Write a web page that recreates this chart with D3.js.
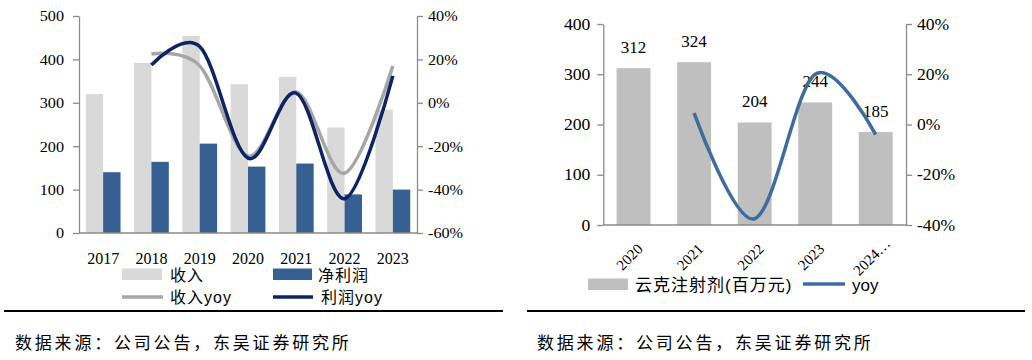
<!DOCTYPE html>
<html><head><meta charset="utf-8">
<script src="https://cdn.jsdelivr.net/npm/d3@7/dist/d3.min.js"></script>
<style>html,body{margin:0;padding:0;background:#fff;}svg{display:block;}</style>
</head><body>
<svg id="c" width="1032" height="360"></svg>
<script>
// ---------- data ----------
const yearsL = ["2017","2018","2019","2020","2021","2022","2023"];
const revenue = [320, 392, 454, 343, 360, 243, 284];
const netProfit = [140, 164, 206, 153, 160, 89, 100];
const revenueYoy = [null, 22.5, 17.0, -24.5, 5.0, -32.5, 17.0];
const profitYoy = [null, 17.4, 25.9, -25.5, 4.4, -44.2, 12.4];
const leftTicksL = [0, 100, 200, 300, 400, 500];
const rightTicksL = [-60, -40, -20, 0, 20, 40];

const yearsR = ["2020","2021","2022","2023","2024…"];
const yunke = [312, 324, 204, 244, 185];
const yunkeYoy = [null, 4.5, -37.5, 20.0, -4.0];
const leftTicksR = [0, 100, 200, 300, 400];
const rightTicksR = [-40, -20, 0, 20, 40];

const legendL = ["收入", "净利润", "收入yoy", "利润yoy"];
const legendR = ["云克注射剂(百万元)", "yoy"];
const sourceText = "数据来源：公司公告，东吴证券研究所";

// ---------- style ----------
const SERIF = "'Liberation Serif','Times New Roman',serif";
const CJK = "'Liberation Sans','Noto Sans CJK SC',sans-serif";
const AXIS = "#8a8a8a";
const C_REV = "#d9d9d9", C_NP = "#376092", C_REVY = "#a6a6a6", C_NPY = "#0c2364";
const C_BAR_R = "#bfbfbf", C_LINE_R = "#3f6c9e";

const svg = d3.select("#c");

function stretch(sel, sx) {
  sel.each(function () {
    const t = d3.select(this);
    const x = +t.attr("x") || 0;
    t.attr("x", 0).attr("transform", `translate(${x},0) scale(${sx},1)`);
  });
}
function styleAxis(g, fs, sx) {
  g.attr("font-family", null).attr("font-size", null);
  g.select(".domain").attr("stroke", AXIS).attr("stroke-width", 1.3);
  g.selectAll(".tick line").attr("stroke", AXIS).attr("stroke-width", 1.3);
  g.selectAll(".tick text").attr("fill", "#000")
    .style("font-family", SERIF).style("font-size", fs + "px");
  stretch(g.selectAll(".tick text"), sx);
}

// ================= LEFT CHART =================
{
  const x0 = 79, x1 = 417, yT = 16, yB = 233;
  const x = d3.scaleBand().domain(yearsL).range([x0, x1]).paddingInner(0.28).paddingOuter(0.14);
  const xs = d3.scaleBand().domain(["rev", "np"]).range([0, x.bandwidth()]);
  const y = d3.scaleLinear().domain([0, 500]).range([yB, yT]);
  const y2 = d3.scaleLinear().domain([-60, 40]).range([yB, yT]);
  const g = svg.append("g");

  g.selectAll("rect.rev").data(yearsL).join("rect")
    .attr("x", (d) => x(d) + xs("rev")).attr("width", xs.bandwidth())
    .attr("y", (d, i) => y(revenue[i])).attr("height", (d, i) => yB - y(revenue[i]))
    .attr("fill", C_REV);
  g.selectAll("rect.np").data(yearsL).join("rect")
    .attr("x", (d) => x(d) + xs("np")).attr("width", xs.bandwidth())
    .attr("y", (d, i) => y(netProfit[i])).attr("height", (d, i) => yB - y(netProfit[i]))
    .attr("fill", C_NP);

  const ax = g.append("g").attr("transform", `translate(${x0},0)`)
    .call(d3.axisLeft(y).tickValues(leftTicksL).tickSize(6).tickSizeOuter(0).tickPadding(9));
  styleAxis(ax, 15, 1.08);
  const ax2 = g.append("g").attr("transform", `translate(${x1},0)`)
    .call(d3.axisRight(y2).tickValues(rightTicksL).tickSize(6).tickSizeOuter(0).tickPadding(5).tickFormat((d) => d + "%"));
  styleAxis(ax2, 15, 1.08);
  g.append("line").attr("x1", x0).attr("x2", x1).attr("y1", yB).attr("y2", yB)
    .attr("stroke", AXIS).attr("stroke-width", 1.3);

  g.selectAll("text.yr").data(yearsL).join("text")
    .attr("x", (d) => x(d) + x.bandwidth() / 2).attr("y", 264)
    .attr("text-anchor", "middle").style("font-family", SERIF).style("font-size", "16px").text((d) => d);

  const cx = (d) => x(d) + x.bandwidth() / 2;
  const line = (arr, sc) => d3.line().defined((d, i) => arr[i] != null)
    .x((d) => cx(d)).y((d, i) => sc(arr[i])).curve(d3.curveCatmullRom.alpha(0));
  g.append("path").datum(yearsL).attr("d", line(revenueYoy, y2))
    .attr("fill", "none").attr("stroke", C_REVY).attr("stroke-width", 3.5);
  g.append("path").datum(yearsL).attr("d", line(profitYoy, y2))
    .attr("fill", "none").attr("stroke", C_NPY).attr("stroke-width", 3.5);

  // legend
  const lg = g.append("g").style("font-family", CJK).style("font-size", "16px");
  lg.append("rect").attr("x", 122).attr("y", 268.5).attr("width", 40).attr("height", 11.5).attr("fill", C_REV);
  lg.append("text").attr("x", 170).attr("y", 275).attr("dominant-baseline", "central").attr("letter-spacing", 1).text(legendL[0]);
  lg.append("rect").attr("x", 273).attr("y", 268.5).attr("width", 39).attr("height", 11.5).attr("fill", C_NP);
  lg.append("text").attr("x", 318).attr("y", 275).attr("dominant-baseline", "central").attr("letter-spacing", 1).text(legendL[1]);
  lg.append("line").attr("x1", 122).attr("x2", 163).attr("y1", 297).attr("y2", 297).attr("stroke", C_REVY).attr("stroke-width", 3.5);
  lg.append("text").attr("x", 170).attr("y", 297).attr("dominant-baseline", "central").attr("letter-spacing", 1).text(legendL[2]);
  lg.append("line").attr("x1", 273).attr("x2", 313).attr("y1", 297).attr("y2", 297).attr("stroke", C_NPY).attr("stroke-width", 3.5);
  lg.append("text").attr("x", 321).attr("y", 297).attr("dominant-baseline", "central").attr("letter-spacing", 1).text(legendL[3]);

  svg.append("line").attr("x1", 4).attr("x2", 503).attr("y1", 311).attr("y2", 311).attr("stroke", "#000").attr("stroke-width", 2);
  svg.append("text").attr("x", 15).attr("y", 343.5).attr("dominant-baseline", "central")
    .style("font-family", CJK).style("font-size", "17px").attr("letter-spacing", 2.8).text(sourceText);
}

// ================= RIGHT CHART =================
{
  const x0 = 603.3, x1 = 906, yT = 24, yB = 225;
  const x = d3.scaleBand().domain(yearsR).range([x0, x1]).paddingInner(0.44).paddingOuter(0.22);
  const y = d3.scaleLinear().domain([0, 400]).range([yB, yT]);
  const y2 = d3.scaleLinear().domain([-40, 40]).range([yB, yT]);
  const g = svg.append("g");
  const cx = (d) => x(d) + x.bandwidth() / 2;

  g.selectAll("rect.b").data(yearsR).join("rect")
    .attr("x", (d) => x(d)).attr("width", x.bandwidth())
    .attr("y", (d, i) => y(yunke[i])).attr("height", (d, i) => yB - y(yunke[i]))
    .attr("fill", C_BAR_R);

  const ax = g.append("g").attr("transform", `translate(${x0},0)`)
    .call(d3.axisLeft(y).tickValues(leftTicksR).tickSize(6).tickSizeOuter(0).tickPadding(7));
  styleAxis(ax, 16, 1.1);
  const ax2 = g.append("g").attr("transform", `translate(${x1},0)`)
    .call(d3.axisRight(y2).tickValues(rightTicksR).tickSize(6).tickSizeOuter(0).tickPadding(5).tickFormat((d) => d + "%"));
  styleAxis(ax2, 16, 1.1);
  g.append("line").attr("x1", x0).attr("x2", x1).attr("y1", yB).attr("y2", yB)
    .attr("stroke", AXIS).attr("stroke-width", 1.3);

  g.selectAll("text.v").data(yearsR).join("text")
    .attr("x", cx).attr("y", (d, i) => y(yunke[i]) - 15)
    .attr("text-anchor", "middle").style("font-family", SERIF).style("font-size", "17px")
    .text((d, i) => yunke[i]);

  g.selectAll("text.yr").data(yearsR).join("text")
    .attr("transform", (d) => `translate(${cx(d) - 4},257) rotate(-45)`)
    .attr("text-anchor", "middle").attr("dominant-baseline", "central")
    .style("font-family", SERIF).style("font-size", "15px").text((d) => d);

  const line = d3.line().defined((d, i) => yunkeYoy[i] != null)
    .x((d) => cx(d)).y((d, i) => y2(yunkeYoy[i])).curve(d3.curveCatmullRom.alpha(0));
  g.append("path").datum(yearsR).attr("d", line)
    .attr("fill", "none").attr("stroke", C_LINE_R).attr("stroke-width", 3.5);

  const lg = g.append("g").style("font-family", CJK).style("font-size", "17px");
  lg.append("rect").attr("x", 588).attr("y", 278.5).attr("width", 40).attr("height", 11.5).attr("fill", C_BAR_R);
  lg.append("text").attr("x", 635).attr("y", 285).attr("dominant-baseline", "central").attr("letter-spacing", 1).text(legendR[0]);
  lg.append("line").attr("x1", 803).attr("x2", 845).attr("y1", 284).attr("y2", 284).attr("stroke", C_LINE_R).attr("stroke-width", 3.5);
  lg.append("text").attr("x", 852).attr("y", 285).attr("dominant-baseline", "central").text(legendR[1]);

  svg.append("line").attr("x1", 527).attr("x2", 1025).attr("y1", 311).attr("y2", 311).attr("stroke", "#000").attr("stroke-width", 2);
  svg.append("text").attr("x", 537).attr("y", 343.5).attr("dominant-baseline", "central")
    .style("font-family", CJK).style("font-size", "17px").attr("letter-spacing", 2.8).text(sourceText);
}
</script>
</body></html>
